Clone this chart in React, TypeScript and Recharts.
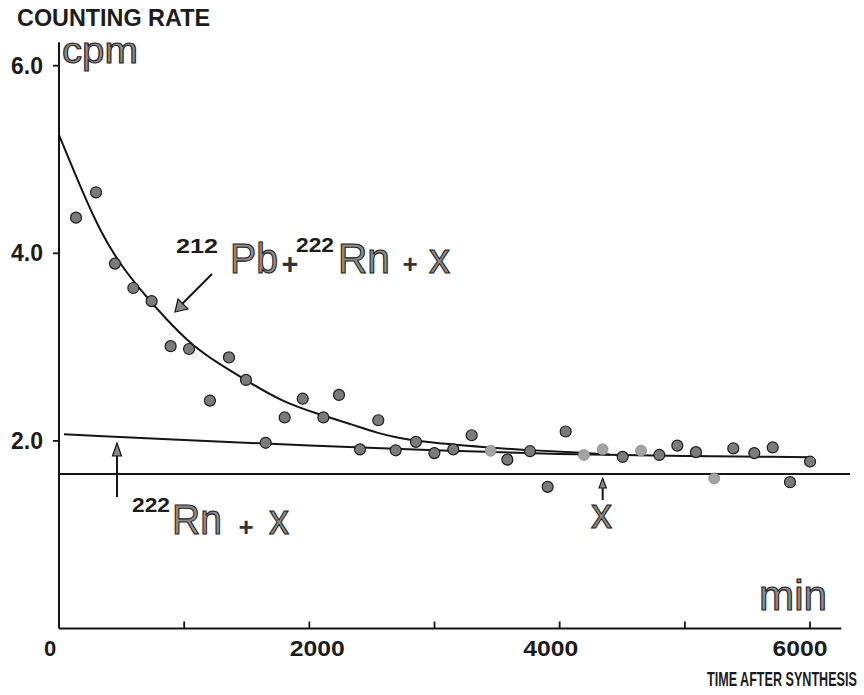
import React from 'react';
import { ComposedChart, Line, Scatter, XAxis, YAxis, ReferenceLine } from 'recharts';

// measured points (min, cpm)
const darkTimes = [136, 296, 447, 594, 740, 892, 1039, 1206, 1358, 1494, 1651, 1803, 1947, 2112, 2237, 2405, 2551, 2690, 2852, 2999, 3150, 3297, 3582, 3763, 3904, 4048, 4503, 4796, 4940, 5089, 5387, 5555, 5702, 5840, 6000];
const darkRates = [4.38, 4.65, 3.89, 3.63, 3.49, 3.01, 2.98, 2.43, 2.89, 2.65, 1.98, 2.25, 2.45, 2.25, 2.49, 1.91, 2.22, 1.9, 1.99, 1.87, 1.91, 2.06, 1.8, 1.89, 1.51, 2.1, 1.83, 1.85, 1.95, 1.88, 1.92, 1.87, 1.93, 1.56, 1.78];
const lightTimes = [3449, 4194, 4343, 4650, 5235];
const lightRates = [1.895, 1.85, 1.91, 1.896, 1.6];

// fitted curve 212Pb + 222Rn + x
const pbTimes = [0, 170, 330, 490, 650, 860, 1070, 1280, 1490, 1790, 2110, 2330, 2550, 2720, 2850, 3120, 3360, 3760, 4160, 4400];
const pbRates = [5.26, 4.71, 4.23, 3.88, 3.61, 3.29, 3.01, 2.82, 2.65, 2.41, 2.27, 2.18, 2.08, 2.03, 2.0, 1.965, 1.935, 1.9, 1.875, 1.855];

// fitted line 222Rn + x
const rnTimes = [40, 1000, 2000, 3000, 4000, 5000, 6000];
const rnRates = [2.07, 2.01, 1.95, 1.9, 1.86, 1.84, 1.826];

// background level x
const xLevel = 1.646;
const xLevelEnd = 6320;

const xTicks = [0, 1000, 2000, 3000, 4000, 5000, 6000];
const xLabels = [0, 2000, 4000, 6000];
const yTicks = [2, 4, 6];

const zip = (t: number[], r: number[]) => t.map((v, i) => ({ t: v, r: r[i] }));
const darkData = zip(darkTimes, darkRates);
const lightData = zip(lightTimes, lightRates);
const pbData = zip(pbTimes, pbRates);
const rnData = zip(rnTimes, rnRates);

const FONT = '"Liberation Sans", Arial, Helvetica, sans-serif';
const INK = '#151515';
const xLabelShift: Record<number, number> = { 0: -9, 2000: 8, 4000: -9, 6000: -10 };

function XTick(props: any) {
  const { x, y, payload } = props;
  const v = payload.value as number;
  const s = String(v);
  return (
    <g>
      {v !== 0 && <line x1={x} y1={y} x2={x} y2={y - 7} stroke={INK} strokeWidth={1.8} />}
      {xLabels.includes(v) && (
        <text
          x={x + (xLabelShift[v] ?? 0)}
          y={y + 27}
          textAnchor="middle"
          fontFamily={FONT}
          fontWeight="bold"
          fontSize={22}
          fill="#1c1c1c"
          {...(s.length > 1 ? { textLength: 55, lengthAdjust: 'spacingAndGlyphs' } : {})}
        >
          {s}
        </text>
      )}
    </g>
  );
}

const DarkDot = (p: any) => <circle cx={p.cx} cy={p.cy} r={5.5} fill="#7b7b7b" stroke="#1c1c1c" strokeWidth={1.2} />;
const LightDot = (p: any) => <circle cx={p.cx} cy={p.cy} r={5.5} fill="#a3a3a3" stroke="#8a8a8a" strokeWidth={0.8} />;

const big = { fontFamily: FONT, fill: '#8c8c8c', stroke: '#222', strokeWidth: 1.1 } as const;
const sup = { fontFamily: FONT, fill: '#1c1c1c', fontWeight: 'bold' as const, fontSize: 21 };
const plus = { fontFamily: FONT, fill: '#333', fontWeight: 'bold' as const, fontSize: 29, textAnchor: 'middle' as const };

function Overlay() {
  return (
    <svg width={864} height={695} style={{ position: 'absolute', left: 0, top: 0, pointerEvents: 'none' }}>
      <text x={17} y={26} fontFamily={FONT} fontWeight="bold" fontSize={23} fill="#1c1c1c" textLength={193} lengthAdjust="spacingAndGlyphs">COUNTING RATE</text>
      <text x={62} y={63} fontSize={37} {...big} textLength={76} lengthAdjust="spacingAndGlyphs">cpm</text>
      <text x={759} y={610} fontSize={42} {...big} textLength={68} lengthAdjust="spacingAndGlyphs">min</text>
      <text transform="translate(707,686) scale(0.6,1)" x={0} y={0} fontFamily={FONT} fontWeight="bold" fontSize={21} fill="#1c1c1c">TIME AFTER SYNTHESIS</text>

      {/* 212Pb + 222Rn + x */}
      <text x={176} y={253} {...sup} textLength={42} lengthAdjust="spacingAndGlyphs">212</text>
      <text x={230} y={273} fontSize={42} {...big} textLength={48} lengthAdjust="spacingAndGlyphs">Pb</text>
      <text x={290} y={274} {...plus}>+</text>
      <text x={296} y={252} {...sup} textLength={38} lengthAdjust="spacingAndGlyphs">222</text>
      <text x={338} y={273} fontSize={42} {...big} textLength={52} lengthAdjust="spacingAndGlyphs">Rn</text>
      <text x={410} y={273} {...plus} fontSize={26}>+</text>
      <text x={429} y={273} fontSize={42} {...big} textLength={21} lengthAdjust="spacingAndGlyphs">x</text>
      <line x1={212} y1={274} x2={180} y2={306} stroke={INK} strokeWidth={2} />
      <polygon points="175,312 178,299 188,309" fill="#888" stroke={INK} strokeWidth={1.2} />

      {/* 222Rn + x */}
      <text x={132} y={512} {...sup} textLength={38} lengthAdjust="spacingAndGlyphs">222</text>
      <text x={172} y={534} fontSize={42} {...big} textLength={50} lengthAdjust="spacingAndGlyphs">Rn</text>
      <text x={246} y={536} {...plus} fontSize={26}>+</text>
      <text x={269} y={534} fontSize={42} {...big} textLength={20} lengthAdjust="spacingAndGlyphs">x</text>
      <line x1={117} y1={497} x2={117} y2={452} stroke={INK} strokeWidth={2} />
      <polygon points="117,443 112.5,456 121.5,456" fill="#888" stroke={INK} strokeWidth={1.2} />

      {/* x level marker */}
      <line x1={602.7} y1={500} x2={602.7} y2={485} stroke={INK} strokeWidth={2} />
      <polygon points="602.7,478 599,488 606.4,488" fill="#888" stroke={INK} strokeWidth={1.1} />
      <text x={591} y={528} fontSize={42} {...big} textLength={21} lengthAdjust="spacingAndGlyphs">x</text>
    </svg>
  );
}

export default function App() {
  return (
    <div style={{ position: 'absolute', left: 0, top: 0, width: 864, height: 695, background: '#fff' }}>
      <ComposedChart width={864} height={695} margin={{ top: 42.25, left: 0, right: 22.7, bottom: 0 }}>
        <XAxis
          type="number"
          dataKey="t"
          domain={[0, 6250]}
          allowDataOverflow
          ticks={xTicks}
          interval={0}
          height={66.5}
          tickSize={0}
          tickMargin={0}
          tickLine={false}
          axisLine={{ stroke: INK, strokeWidth: 2 }}
          tick={<XTick />}
        />
        <YAxis
          type="number"
          dataKey="r"
          domain={[0, 6.25]}
          allowDataOverflow
          ticks={yTicks}
          width={59}
          tickSize={6}
          tickMargin={10}
          tickFormatter={(v: number) => v.toFixed(1)}
          axisLine={{ stroke: INK, strokeWidth: 2 }}
          tickLine={{ stroke: INK, strokeWidth: 1.8 }}
          tick={{ fill: '#1c1c1c', fontSize: 23, fontWeight: 'bold', fontFamily: FONT }}
        />
        <ReferenceLine
          segment={[{ x: 0, y: xLevel }, { x: xLevelEnd, y: xLevel }]}
          ifOverflow="visible"
          stroke={INK}
          strokeWidth={2}
        />
        <Line data={rnData} dataKey="r" type="monotone" stroke={INK} strokeWidth={2} dot={false} isAnimationActive={false} />
        <Line data={pbData} dataKey="r" type="basis" stroke={INK} strokeWidth={2} dot={false} isAnimationActive={false} />
        <Scatter data={lightData} dataKey="r" shape={LightDot} isAnimationActive={false} />
        <Scatter data={darkData} dataKey="r" shape={DarkDot} isAnimationActive={false} />
      </ComposedChart>
      <Overlay />
    </div>
  );
}
